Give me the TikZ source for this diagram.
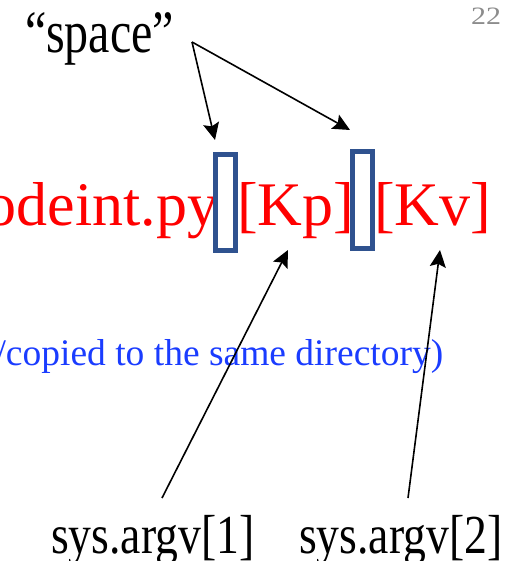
\documentclass[tikz,border=0pt]{standalone}
\usepackage{fontspec}
\setmainfont{Liberation Serif}
\usepackage{graphicx}
\usetikzlibrary{arrows.meta}
\definecolor{boxblue}{RGB}{47,82,143}
\definecolor{txtblue}{RGB}{26,60,255}
\definecolor{pgnum}{RGB}{140,140,140}
\tikzset{
  lbl/.style={inner sep=0pt, outer sep=0pt},
  redtxt/.style={lbl, text=red, font=\fontsize{62}{70}\selectfont},
  spacebox/.style={draw=boxblue, line width=5pt},
  ptr/.style={draw=black, line width=1.6pt, -{Stealth[length=17pt,width=16pt,inset=3pt]}}
}
\begin{document}
\begin{tikzpicture}[x=1pt,y=-1pt]
\useasboundingbox (0,0) rectangle (513,561);
\clip (0,0) rectangle (513,561);
% page number
\node[lbl, anchor=base east, text=pgnum, font=\fontsize{25}{28}\selectfont] (pg) at (501,25) {\scalebox{1.2}[1]{22}};
% "space" label
\node[lbl, anchor=base west, font=\fontsize{60}{66}\selectfont] (space) at (25,53) {\scalebox{0.8}[1]{“space”}};
% command line
\node[redtxt, anchor=base east] (cmd) at (218,225) {odeint.py};
\node[redtxt, anchor=base west] (kp) at (237,225) {[Kp]};
\node[redtxt, anchor=base west] (kv) at (374,225) {[Kv]};
% space boxes
\draw[spacebox] (215.5,154.5) rectangle (235.5,250.5);
\draw[spacebox] (352.5,151.5) rectangle (372.5,248.5);
% note
\node[lbl, anchor=base west, text=txtblue, font=\fontsize{37.5}{42}\selectfont] (note) at (-4.5,365) {/copied to the same directory)};
% argv labels
\node[lbl, anchor=base west, font=\fontsize{55}{60}\selectfont] (a1) at (51,553) {\scalebox{0.83}[1]{sys.argv[1]}};
\node[lbl, anchor=base west, font=\fontsize{55}{60}\selectfont] (a2) at (299,553) {\scalebox{0.83}[1]{sys.argv[2]}};
% connector ends
\coordinate (sp) at (192,42);
\coordinate (t1) at (215,140);
\coordinate (t2) at (350,130);
\coordinate (s1) at (162,498);
\coordinate (s2) at (408,498);
\coordinate (t3) at (288,250);
\coordinate (t4) at (440,250);
\draw[ptr] (sp) -- (t1);
\draw[ptr] (sp) -- (t2);
\draw[ptr] (s1) -- (t3);
\draw[ptr] (s2) -- (t4);
\end{tikzpicture}
\end{document}
